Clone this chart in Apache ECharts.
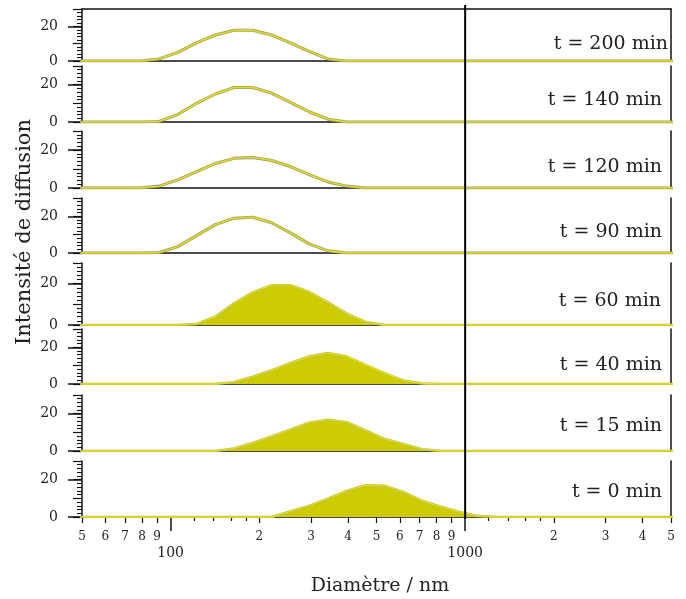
<!DOCTYPE html>
<html><head><meta charset="utf-8">
<script src="https://cdn.jsdelivr.net/npm/echarts@6/dist/echarts.min.js"></script>
<style>html,body{margin:0;padding:0;background:#fff}#c{width:686px;height:599px}</style>
</head><body><div id="c"></div>
<script>
// Size bins (nm)
const sizes = [43.82, 50.75, 58.77, 68.06, 78.82, 91.28, 105.7, 122.4, 141.8, 164.2, 190.1, 220.2, 255.0, 295.3, 342.0, 396.1, 458.7, 531.2, 615.1, 712.4, 825.0, 955.4, 1106, 1281, 1484, 1718, 1990, 2305, 2669, 3091, 3580, 4145, 4801, 5560];
// Intensity (%) per panel
const t200 = [0,0,0,0,0,1.2,5,10.5,15,17.7,17.7,15,10.5,5.5,1.2,0,0,0,0,0,0,0,0,0,0,0,0,0,0,0,0,0,0,0];
const t140 = [0,0,0,0,0,0.3,4,10,15,18.5,18.5,15.5,10.5,5.5,1.5,0,0,0,0,0,0,0,0,0,0,0,0,0,0,0,0,0,0,0];
const t120 = [0,0,0,0,0,1,4.3,8.6,12.9,15.6,16.1,14.5,11.3,7,3.2,1,0,0,0,0,0,0,0,0,0,0,0,0,0,0,0,0,0,0];
const t90  = [0,0,0,0,0,0.3,3.5,9.5,15.5,19,19.5,16.5,11,5,1.2,0,0,0,0,0,0,0,0,0,0,0,0,0,0,0,0,0,0,0];
const t60  = [0,0,0,0,0,0,0,0.5,4,10.5,15.8,19.3,19.3,16,11,5.5,1.5,0,0,0,0,0,0,0,0,0,0,0,0,0,0,0,0,0];
const t40  = [0,0,0,0,0,0,0,0,0,1,4,7.5,11.5,15,17,15,10.5,6,2,0.3,0,0,0,0,0,0,0,0,0,0,0,0,0,0];
const t15  = [0,0,0,0,0,0,0,0,0,1.4,4.3,7.8,11.4,15.2,16.8,15.5,11,6.5,3.8,1,0,0,0,0,0,0,0,0,0,0,0,0,0,0];
const t0   = [0,0,0,0,0,0,0,0,0,0,0,0,3,6,9.8,14,17,16.8,13.5,8.8,5.5,2.7,0.5,0,0,0,0,0,0,0,0,0,0,0];

const panelLabels = ['t = 200 min','t = 140 min','t = 120 min','t = 90 min','t = 60 min','t = 40 min','t = 15 min','t = 0 min'];
const panelData = [t200, t140, t120, t90, t60, t40, t15, t0];
const panelFilled = [false,false,false,false,true,true,true,true];

const xMin = 50, xMax = 5000;
const yMin = 0, yMax = 30, yInterval = 10;
const yLabelTicks = [0, 20];
const majorTicks = [100, 1000];
const labeledMinorTicks = [50,60,70,80,90,200,300,400,500,600,700,800,900,2000,3000,4000,5000];
const minorTickLabels = ['5','6','7','8','9','2','3','4','5','6','7','8','9','2','3','4','5'];
const minorTicks = [120,140,160,180,1200,1400,1600,1800];
const refLine = 1000;

// layout
const panelTops = [9, 66, 131, 198, 263, 329, 395, 461];
const panelHeights = [52, 56, 57, 55, 62, 55, 56, 56];
const labelY = [44, 100, 167, 232, 301, 365, 426, 492];
const labelX = [668, 662, 662, 662, 661, 662, 662, 662];
const FONT = '"DejaVu Serif", serif';
const INK = '#111';

const grid = [], xAxis = [], yAxis = [], series = [], graphic = [];

function logX(gi, extra) {
  return Object.assign({
    type: 'log', logBase: 10, min: xMin, max: xMax, gridIndex: gi, position: 'bottom',
    axisLine: {show: true, onZero: false, lineStyle: {color: INK, width: 1.5}},
    axisTick: {show: false}, axisLabel: {show: false},
    splitLine: {show: false}, minorTick: {show: false}, minorSplitLine: {show: false}
  }, extra || {});
}

panelData.forEach((arr, i) => {
  grid.push({left: 82, right: 15, top: panelTops[i], height: panelHeights[i], outerBoundsMode: 'none'});
  const xi = xAxis.length;
  if (i === 7) {
    xAxis.push(logX(i, {
      axisTick: {show: true, customValues: majorTicks, length: 14, lineStyle: {color: INK, width: 1.5}},
      axisLabel: {show: true, customValues: majorTicks, formatter: v => String(Math.round(v)), margin: 29,
        fontFamily: FONT, fontSize: 14, color: '#222'}
    }));
  } else {
    xAxis.push(logX(i));
  }
  const yi = yAxis.length;
  yAxis.push({
    type: 'value', gridIndex: i, position: 'left', min: yMin, max: yMax, interval: yInterval,
    axisLine: {show: true, onZero: false, lineStyle: {color: INK, width: 1.5}},
    axisTick: {show: true, length: 9, lineStyle: {color: INK, width: 1.2}},
    minorTick: {show: true, splitNumber: 5, length: 5, lineStyle: {color: INK, width: 1.1}},
    axisLabel: {show: false}, splitLine: {show: false}, minorSplitLine: {show: false}
  });
  yAxis.push({
    type: 'value', gridIndex: i, position: 'left', min: yMin, max: yMax, interval: yInterval,
    axisLine: {show: false, onZero: false},
    axisTick: {show: true, customValues: yLabelTicks, length: 14, lineStyle: {color: INK, width: 1.5}},
    axisLabel: {show: true, customValues: yLabelTicks, margin: 24, fontFamily: FONT, fontSize: 14, color: '#222'},
    splitLine: {show: false}
  });
  yAxis.push({
    type: 'value', gridIndex: i, position: 'right', min: yMin, max: yMax, interval: yInterval,
    axisLine: {show: true, onZero: false, lineStyle: {color: INK, width: 1.5}},
    axisTick: {show: false}, axisLabel: {show: false}, splitLine: {show: false}
  });
  const data = sizes.map((s, k) => [s, arr[k]]);
  series.push({
    type: 'line', xAxisIndex: xi, yAxisIndex: yi, data: data, showSymbol: false, symbol: 'none',
    lineStyle: {color: panelFilled[i] ? '#b0b070' : '#9c9c80', width: panelFilled[i] ? 2.4 : 3}, z: 3, silent: true, animation: false,
    areaStyle: panelFilled[i] ? {color: '#cccc00', opacity: 1} : undefined
  });
  series.push({
    type: 'line', xAxisIndex: xi, yAxisIndex: yi, data: data, showSymbol: false, symbol: 'none',
    lineStyle: {color: '#e4e400', width: 1.4}, z: 4, silent: true, animation: false
  });
  graphic.push({type: 'text', x: labelX[i], y: labelY[i], silent: true,
    style: {text: panelLabels[i], font: '19px ' + FONT, fill: '#222', align: 'right', textAlign: 'right',
      verticalAlign: 'middle', textVerticalAlign: 'middle'}});
});

// extra axes on the bottom panel
xAxis.push(logX(7, {
  axisLine: {show: false, onZero: false},
  axisTick: {show: true, customValues: labeledMinorTicks, length: 6, lineStyle: {color: INK, width: 1.2}},
  axisLabel: {show: true, customValues: labeledMinorTicks, margin: 14, fontFamily: FONT, fontSize: 12, color: '#222',
    formatter: v => { const k = labeledMinorTicks.findIndex(t => Math.abs(t - v) < t * 0.001); return k >= 0 ? minorTickLabels[k] : ''; }}
}));
xAxis.push(logX(7, {
  axisLine: {show: false, onZero: false},
  axisTick: {show: true, customValues: minorTicks, length: 4, lineStyle: {color: INK, width: 1.2}}
}));
// top border of first panel
xAxis.push(logX(0, {position: 'top'}));

// overlay grid for reference line
grid.push({left: 82, right: 15, top: 5, height: 514, outerBoundsMode: 'none'});
const ox = xAxis.length;
xAxis.push({type: 'log', logBase: 10, min: xMin, max: xMax, gridIndex: 8, show: false});
const oy = yAxis.length;
yAxis.push({type: 'value', min: 0, max: 1, gridIndex: 8, show: false});
series.push({
  type: 'line', xAxisIndex: ox, yAxisIndex: oy, data: [[refLine, 0], [refLine, 1]],
  showSymbol: false, symbol: 'none', lineStyle: {color: '#000', width: 2}, z: 10, silent: true, animation: false
});

graphic.push({type: 'text', x: 25, y: 232, rotation: Math.PI / 2, silent: true,
  style: {text: 'Intensité de diffusion', font: '21px ' + FONT, fill: '#222', align: 'center', textAlign: 'center',
    verticalAlign: 'middle', textVerticalAlign: 'middle'}});
graphic.push({type: 'text', x: 380, y: 586, silent: true,
  style: {text: 'Diamètre / nm', font: '19px ' + FONT, fill: '#222', align: 'center', textAlign: 'center',
    verticalAlign: 'middle', textVerticalAlign: 'middle'}});

const chart = echarts.init(document.getElementById('c'), null, {renderer: 'canvas'});
chart.setOption({animation: false, backgroundColor: '#fff', grid, xAxis, yAxis, series, graphic});
</script></body></html>
